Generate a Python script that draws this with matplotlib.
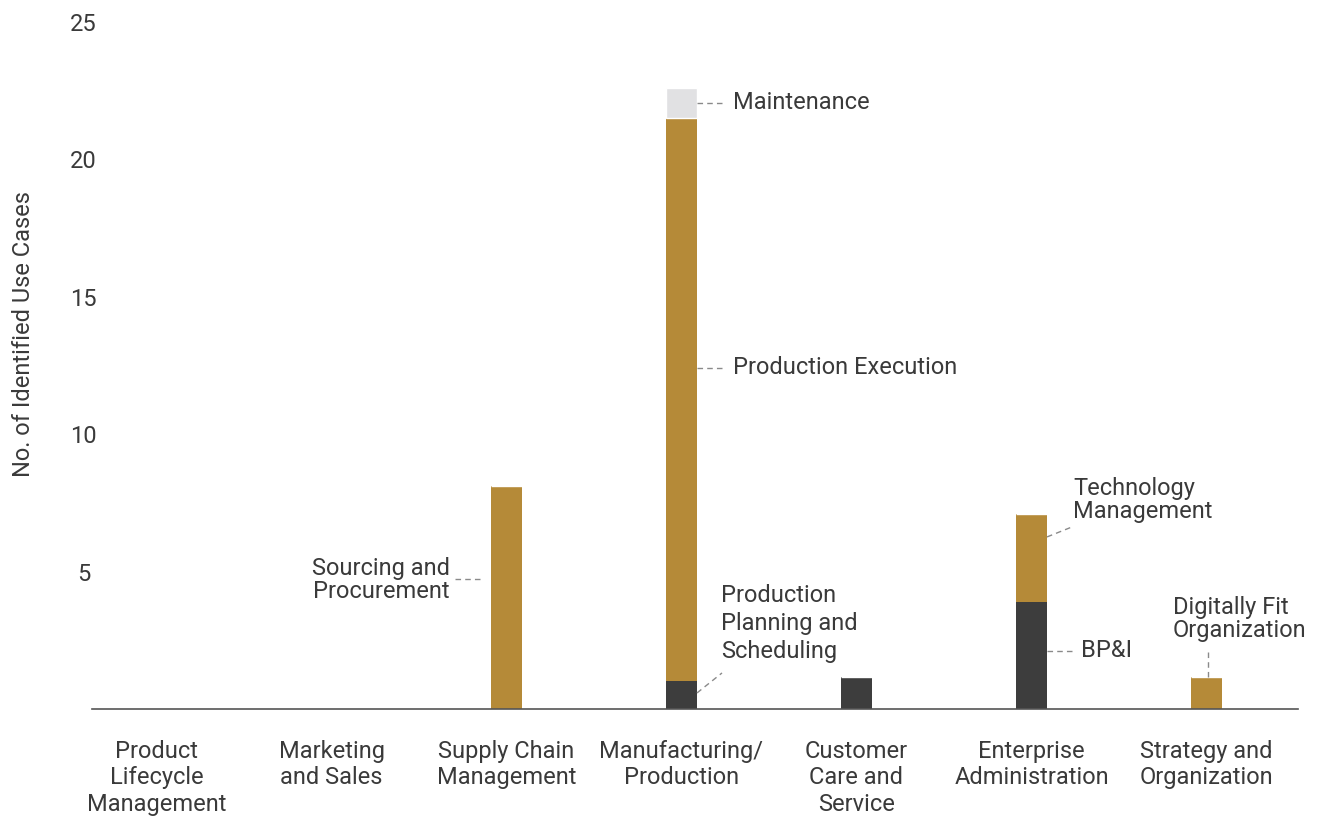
import matplotlib.pyplot as plt
import numpy as np

categories = ['Product\nLifecycle\nManagement', 'Marketing\nand Sales', 'Supply Chain\nManagement',
              'Manufacturing/\nProduction', 'Customer\nCare and\nService', 'Enterprise\nAdministration',
              'Strategy and\nOrganization']
# stacked segments: dark (bottom), gold (middle), light grey (top)
dark = [0, 0, 0, 1.0, 1.15, 3.9, 0]
gold = [0, 0, 8.1, 20.5, 0, 3.2, 1.15]
grey = [0, 0, 0, 1.1, 0, 0, 0]
y_ticks = [5, 10, 15, 20, 25]

c_dark = '#3d3d3d'
c_gold = '#b58a38'
c_grey = '#e1e1e3'
c_text = '#3a3a3a'
c_dash = '#8a8a8a'
fs = 17

plt.rcParams['font.family'] = ['Roboto', 'DejaVu Sans']

fig = plt.figure(figsize=(13.23, 8.18), dpi=100)
ax = fig.add_axes([0.0695, 0.1333, 0.9116, 0.8399])

x = np.arange(len(categories))
w = 0.177
d = np.array(dark)
g = np.array(gold)
ax.bar(x, d, w, color=c_dark)
ax.bar(x, g, w, bottom=d, color=c_gold)
ax.bar(x, grey, w, bottom=d + g, color=c_grey, edgecolor='white', linewidth=1)

ax.set_xlim(-0.369, 6.523)
ax.set_ylim(0, 25)
ax.set_yticks(y_ticks)
ax.set_yticklabels([str(t) for t in y_ticks], fontsize=fs, color=c_text, ha='center')
ax.tick_params(axis='y', length=0, pad=6)
ax.set_xticks(x)
ax.set_xticklabels(categories, fontsize=fs, color=c_text, linespacing=1.22, va='top')
ax.tick_params(axis='x', length=0, pad=22)

for s in ['top', 'right', 'left']:
    ax.spines[s].set_visible(False)
ax.spines['bottom'].set_color('#555555')
ax.spines['bottom'].set_linewidth(1.2)

ax.set_ylabel('No. of Identified Use Cases', fontsize=fs, color=c_text)
ax.yaxis.set_label_coords(-0.047, 0.545)


def px(xp, yp):
    return ((xp - 156.5) / 175.0, (709 - yp) / 27.48)


def note(text, p_from, p_to, p_text, ha='left', ls=1.0):
    x0, y0 = px(*p_from)
    x1, y1 = px(*p_to)
    ax.plot([x0, x1], [y0, y1], ls=(0, (4, 3)), color=c_dash, lw=1)
    tx, ty = px(*p_text)
    ax.text(tx, ty, text, ha=ha, va='center', fontsize=fs, color=c_text, linespacing=ls)


note('Maintenance', (697, 103), (726, 103), (733, 103))
note('Production Execution', (697, 368), (726, 368), (733, 368))
note('Production\nPlanning and\nScheduling', (697, 693), (722, 673), (721, 624), ls=1.28)
note('Sourcing and\nProcurement', (455, 579), (482, 579), (450, 580), ha='right')
note('Technology\nManagement', (1047, 537), (1072, 527), (1073, 500))
note('BP&I', (1047, 651), (1075, 651), (1081, 651))
note('Digitally Fit\nOrganization', (1208, 677), (1208, 652), (1173, 619))

fig.savefig('out.png', dpi=100)
